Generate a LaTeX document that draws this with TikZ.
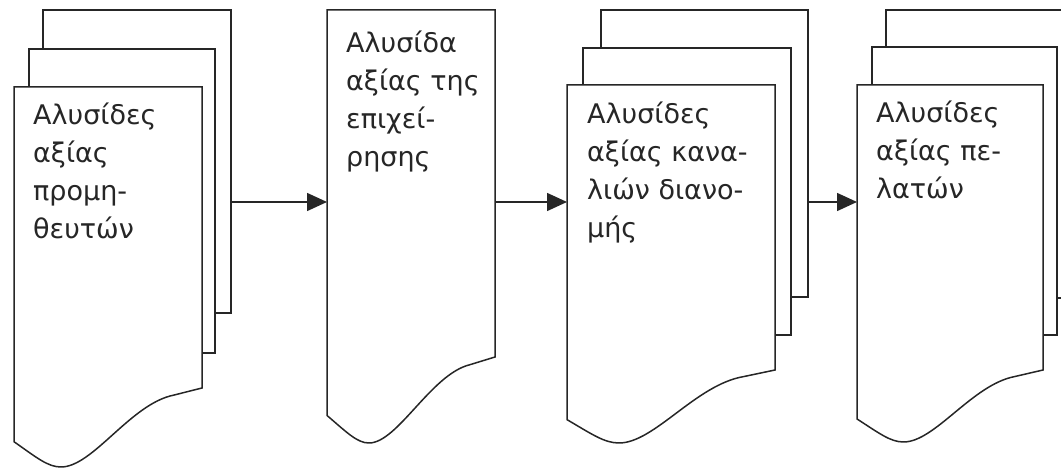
\documentclass[tikz,border=0pt]{standalone}
\usepackage{fontspec}
\setmainfont{DejaVu Sans}
\usetikzlibrary{positioning,calc,arrows.meta}

% outline of a page with a wavy lower edge: node name, depth of the wave
\newcommand{\docoutline}[2]{%
  \draw[sheetline] let \p1=(#1.south west), \p2=(#1.south east), \n1={\x2-\x1}, \n2={#2} in
    (\p2) -- (#1.north east) -- (#1.north west) -- (\x1,\y1-0.68*\n2)
    .. controls (\x1+0.12*\n1,\y1-0.88*\n2) and (\x1+0.18*\n1,\y1-\n2) .. (\x1+0.25*\n1,\y1-\n2)
    .. controls (\x1+0.42*\n1,\y1-\n2) and (\x1+0.62*\n1,\y1-0.2*\n2) .. (\x1+0.85*\n1,\y1-0.09*\n2)
    -- cycle;}

\begin{document}
\begin{tikzpicture}[x=1pt, y=1pt,
    sheet/.style={rectangle, draw=black!85, line width=1.5pt, fill=white, inner sep=0pt, outer sep=0pt, anchor=north west},
    docpage/.style={rectangle, fill=white, inner sep=0pt, outer sep=0pt, anchor=north west},
    sheetline/.style={draw=black!85, line width=1.5pt},
    doctext/.style={align=left, inner sep=0pt, text=black!85, font=\fontsize{27}{38}\selectfont},
    arrow/.style={line width=1.5pt, draw=black!85, -{Triangle[length=20pt,width=18pt]}}
  ]
    \useasboundingbox (0,0) rectangle (1061,468);

    % Suppliers
    \node (b1) [sheet, minimum width=188pt, minimum height=303pt] at (43,458) {};
    \node (m1) [sheet, minimum width=186pt, minimum height=304pt] at (29,419) {};
    \node (d1) [docpage, minimum width=188pt, minimum height=301pt] at (14,381) {};
    \docoutline{d1}{79}
    \node (t1) [doctext, below right=16pt and 19pt of d1.north west] {Αλυσίδες\\αξίας\\προμη-\\θευτών};

    % Firm
    \node (d2) [docpage, minimum width=168pt, minimum height=347pt] at (327,458) {};
    \docoutline{d2}{86}
    \node (t2) [doctext, below right=21pt and 19pt of d2.north west] {Αλυσίδα\\αξίας της\\επιχεί-\\ρησης};

    % Channels
    \node (b3) [sheet, minimum width=207pt, minimum height=287pt] at (601,458) {};
    \node (m3) [sheet, minimum width=208pt, minimum height=287pt] at (583,420) {};
    \node (d3) [docpage, minimum width=208pt, minimum height=285pt] at (567,383) {};
    \docoutline{d3}{73}
    \node (t3) [doctext, below right=17pt and 20pt of d3.north west] {Αλυσίδες\\αξίας κανα-\\λιών διανο-\\μής};

    % Customers
    \node (b4) [sheet, minimum width=190pt, minimum height=288pt] at (886,458) {};
    \node (m4) [sheet, minimum width=185pt, minimum height=288pt] at (872,421) {};
    \node (d4) [docpage, minimum width=186pt, minimum height=285pt] at (857,383) {};
    \docoutline{d4}{72}
    \node (t4) [doctext, below right=16pt and 19pt of d4.north west] {Αλυσίδες\\αξίας πε-\\λατών};

    % Links
    \coordinate (ay) at (0,266);
    \draw[arrow] (b1.east |- ay) -- (d2.west |- ay);
    \draw[arrow] (d2.east |- ay) -- (d3.west |- ay);
    \draw[arrow] (b3.east |- ay) -- (d4.west |- ay);
\end{tikzpicture}
\end{document}
